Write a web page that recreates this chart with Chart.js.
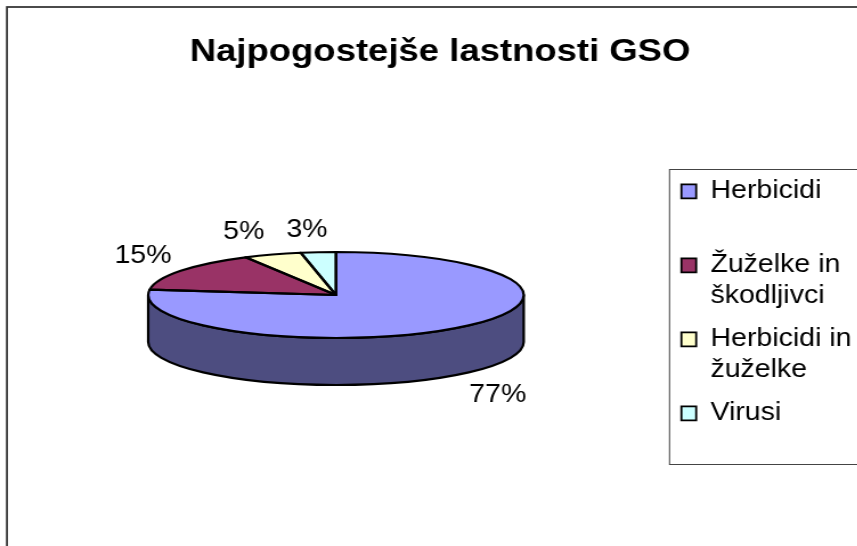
<!DOCTYPE html>
<html>
<head>
<meta charset="utf-8">
<script src="https://cdn.jsdelivr.net/npm/chart.js@4"></script>
<style>
html,body{margin:0;padding:0;background:#fff;overflow:hidden;width:857px;height:546px}
#wrap{width:857px;height:546px;overflow:hidden;position:relative}
canvas{display:block;transform:scaleX(1.14);transform-origin:0 0;filter:blur(0.35px)}
</style>
</head>
<body>
<div id="wrap"><canvas id="c" width="770" height="546"></canvas></div>
<script>
const titleText = "Najpogostejše lastnosti GSO";
const categories = ["Herbicidi", "Žuželke in škodljivci", "Herbicidi in žuželke", "Virusi"];
const legendLines = [["Herbicidi", ""], ["Žuželke in", "škodljivci"], ["Herbicidi in", "žuželke"], ["Virusi"]];
const values = [77, 15, 5, 3];
const sliceColors = ["#9999FF", "#993366", "#FFFFCC", "#CCFFFF"];
const sideColors = ["#4D4D80", "#4D1A33", "#808066", "#668080"];
// layout (chart units; canvas is stretched horizontally by 1.14)
const FONT = "'Liberation Sans', Arial, sans-serif";
const pieCentre = [294.7, 295];
const pieRadius = 164.7, tilt = 43 / 164.7, depth = 47;
const labelOffsets = [[33, 68], [-33, -15], [-25, -22], [-10, -22]];

const pie3d = {
  id: "pie3d",
  beforeDraw(chart) {
    const c = chart.ctx, W = chart.width;
    c.save();
    c.fillStyle = "#fff"; c.fillRect(0, 0, W, chart.height);
    c.strokeStyle = "#333"; c.lineWidth = 1.75;
    c.strokeRect(6.1, 7, W + 20, chart.height + 20);
    c.strokeStyle = "#444"; c.lineWidth = 1;
    c.strokeRect(587.3, 169.5, W, 295);
    c.restore();
  },
  afterDatasetsUpdate(chart) {
    chart.getDatasetMeta(0).data.forEach(a => { a.x = pieCentre[0]; a.y = pieCentre[1]; });
  },
  beforeDatasetsDraw(chart) {
    const c = chart.ctx, arcs = chart.getDatasetMeta(0).data;
    c.save();
    arcs.forEach((a, i) => {
      const from = Math.max(a.startAngle, 0), to = Math.min(a.endAngle, Math.PI);
      if (from >= to) return;
      const rx = a.outerRadius, ry = rx * tilt;
      c.beginPath();
      c.ellipse(a.x, a.y, rx, ry, 0, from, to);
      c.ellipse(a.x, a.y + depth, rx, ry, 0, to, from, true);
      c.closePath();
      c.fillStyle = sideColors[i]; c.fill();
      c.strokeStyle = "#000"; c.lineWidth = 2.2; c.lineJoin = "round"; c.stroke();
    });
    c.restore();
    const a0 = arcs[0];
    c.save();
    c.translate(a0.x, a0.y); c.scale(1, tilt); c.translate(-a0.x, -a0.y);
  },
  afterDatasetsDraw(chart) {
    const c = chart.ctx, arcs = chart.getDatasetMeta(0).data;
    c.restore();
    c.save();
    arcs.forEach(a => {
      const rx = a.outerRadius, ry = rx * tilt;
      c.beginPath();
      c.moveTo(a.x, a.y);
      c.ellipse(a.x, a.y, rx, ry, 0, a.startAngle, a.endAngle);
      c.closePath();
      c.strokeStyle = "#000"; c.lineWidth = 2.2; c.lineJoin = "round"; c.stroke();
    });
    c.fillStyle = "#000";
    c.font = "25px " + FONT;
    c.textAlign = "center"; c.textBaseline = "middle";
    arcs.forEach((a, i) => {
      const m = (a.startAngle + a.endAngle) / 2, rx = a.outerRadius, ry = rx * tilt;
      const x = a.x + rx * Math.cos(m) + labelOffsets[i][0];
      const y = a.y + ry * Math.sin(m) + labelOffsets[i][1];
      c.fillText(values[i] + "%", x, y);
    });
    c.restore();
  }
};

new Chart(document.getElementById("c"), {
  type: "pie",
  data: {
    labels: categories,
    datasets: [{
      data: values,
      backgroundColor: sliceColors,
      borderWidth: 0,
      radius: pieRadius,
      clip: false
    }]
  },
  options: {
    responsive: false,
    animation: false,
    layout: { padding: { left: 15.15, right: 13.15, top: 0, bottom: 60 } },
    plugins: {
      tooltip: { enabled: false },
      title: {
        display: true,
        text: titleText,
        color: "#000",
        font: { family: FONT, size: 32, weight: "bold", lineHeight: 1.2 },
        padding: { top: 33, bottom: 95.5 }
      },
      legend: {
        display: true,
        position: "right",
        align: "start",
        fullSize: false,
        labels: {
          color: "#000",
          font: { family: FONT, size: 25, lineHeight: 1.24 },
          boxWidth: 13,
          boxHeight: 14,
          padding: 12,
          generateLabels(chart) {
            const base = Chart.overrides.pie.plugins.legend.labels.generateLabels(chart);
            return base.map((it, i) => ({ ...it, text: legendLines[i], strokeStyle: "#000", lineWidth: 1.8 }));
          }
        }
      }
    }
  },
  plugins: [pie3d]
});
</script>
</body>
</html>
